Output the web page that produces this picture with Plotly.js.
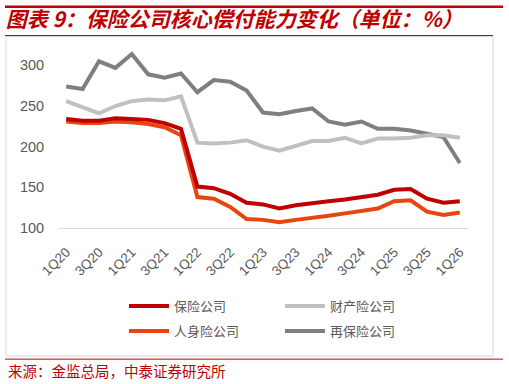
<!DOCTYPE html>
<html>
<head>
<meta charset="utf-8">
<script src="https://cdn.plot.ly/plotly-3.0.1.min.js"></script>
<style>
html,body{margin:0;padding:0;background:#fff;}
#chart{width:509px;height:384px;}
.gtitle{transform: skewX(-14deg); transform-box: fill-box; transform-origin: center;}
</style>
</head>
<body>
<div id="chart"></div>
<script>
// ---- data ----
const quarters = ["1Q20","2Q20","3Q20","4Q20","1Q21","2Q21","3Q21","4Q21","1Q22","2Q22","3Q22","4Q22",
  "1Q23","2Q23","3Q23","4Q23","1Q24","2Q24","3Q24","4Q24","1Q25","2Q25","3Q25","4Q25","1Q26"];
const tickLabels = ["1Q20","3Q20","1Q21","3Q21","1Q22","3Q22","1Q23","3Q23","1Q24","3Q24","1Q25","3Q25","1Q26"];
const insurers = [234,232,232,235,234,233,229,222,151,149,142,131,129,124,128,131,133,135,138,141,147,148,136,131,133];
const property = [256,249,241,250,256,258,257,262,205,204,205,208,200,195,201,207,207,211,204,210,210,211,214,214,211];
const life = [231,229,229,231,230,228,224,214,138,136,126,111,110,107,110,112,115,118,121,124,133,134,120,116,119];
const reinsurance = [274,271,305,297,314,289,285,290,267,282,280,269,242,240,244,247,231,227,231,222,222,220,216,212,180];
const seriesNames = ["保险公司","财产险公司","人身险公司","再保险公司"];

// ---- layout helpers (pixel -> paper / container) ----
const W = 509, H = 384;
const L = 58, R = 468, T = 40.5, B = 228.3;
const px = x => (x - L) / (R - L);
const py = y => (B - y) / (B - T);
const cx = x => x / W;
const cy = y => 1 - y / H;

const red = "#C00000";
const shapes = [
  {type:"line", xref:"paper", yref:"paper", x0:px(5), x1:px(503), y0:py(6), y1:py(6), line:{color:red, width:2.5}},
  {type:"line", xref:"paper", yref:"paper", x0:px(5), x1:px(493), y0:py(35), y1:py(35), line:{color:red, width:1}},
  {type:"rect", xref:"paper", yref:"paper", x0:px(6), x1:px(493), y0:py(36), y1:py(357), line:{color:"#D9D9D9", width:1}, layer:"below"},
  {type:"line", xref:"paper", yref:"paper", x0:px(5), x1:px(503), y0:py(360), y1:py(360), line:{color:red, width:1}}
];

function tr(name, y, color, legend){
  return {type:"scatter", mode:"lines", name:name, x:quarters, y:y,
    line:{color:color, width:4}, hoverinfo:"skip", legend:legend,
    legendrank: seriesNames.indexOf(name) + 1};
}
// draw order: reds on top
const plotData = [
  tr("再保险公司", reinsurance, "#7F7F7F", "legend2"),
  tr("财产险公司", property, "#C0C0C0", "legend"),
  tr("人身险公司", life, "#E8450F", "legend2"),
  tr("保险公司", insurers, "#C00000", "legend")
];

const legFont = {family:"Noto Sans CJK SC, sans-serif", size:13, color:"#595959"};
function leg(yPix){
  return {orientation:"h", xref:"container", yref:"container", x: cx(124), xanchor:"left",
    y: cy(yPix), yanchor:"middle", entrywidth: 101, entrywidthmode:"pixels", traceorder:"normal",
    font: legFont, itemwidth: 40, bgcolor:"rgba(0,0,0,0)"};
}

const layout = {
  width: W, height: H,
  margin: {l: L, r: W - R, t: T, b: H - B, pad: 0, autoexpand:false},
  paper_bgcolor: "#fff", plot_bgcolor: "#fff",
  font: {family: "Liberation Sans, Arial, sans-serif", color: "#595959"},
  title: {text: "<b>图表 9：保险公司核心偿付能力变化（单位：%）</b>", xref:"container", yref:"container",
    x: 8/W, xanchor:"left", y: cy(20), yanchor:"middle",
    font: {family: "Noto Sans CJK SC, sans-serif", size: 21, color: red}},
  showlegend: true,
  legend: leg(306),
  legend2: leg(331),
  xaxis: {type:"category", categoryorder:"array", categoryarray: quarters,
    tickmode:"array", tickvals: tickLabels, ticktext: tickLabels, tickangle:-45,
    range:[-0.5, quarters.length - 0.5],
    showgrid:false, zeroline:false, showline:true, linecolor:"#D9D9D9", linewidth:1,
    ticks:"outside", ticklen:10, tickcolor:"rgba(0,0,0,0)",
    tickfont:{size:13.5, color:"#595959"}, fixedrange:true},
  yaxis: {range:[100, 330], tickmode:"array", tickvals:[100,150,200,250,300],
    showgrid:false, zeroline:false, showline:false,
    ticks:"outside", ticklen:10, tickcolor:"rgba(0,0,0,0)",
    tickfont:{size:14.5, color:"#595959"}, fixedrange:true},
  shapes: shapes,
  annotations: [
    {text:"来源：金监总局，中泰证券研究所", xref:"paper", yref:"paper", x:px(6), y:py(371),
     xanchor:"left", yanchor:"middle", showarrow:false,
     font:{family:"Noto Sans CJK SC, sans-serif", size:14.5, color:red}}
  ]
};

Plotly.newPlot("chart", plotData, layout, {displayModeBar:false, staticPlot:true});
</script>
</body>
</html>
